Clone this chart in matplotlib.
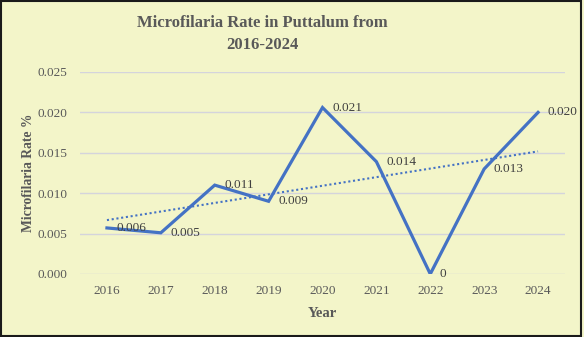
import numpy as np
import matplotlib
matplotlib.use("Agg")
import matplotlib.pyplot as plt
from matplotlib.patches import Rectangle

years = ["2016", "2017", "2018", "2019", "2020", "2021", "2022", "2023", "2024"]
mf_rate = [0.0057, 0.0051, 0.011, 0.009, 0.0206, 0.0139, 0.0, 0.013, 0.020]
y_ticks = [0.000, 0.005, 0.010, 0.015, 0.020, 0.025]

bg = "#F3F5C9"
blue = "#4472C4"
grey_text = "#595959"
serif = ["Liberation Serif", "DejaVu Serif"]

fig = plt.figure(figsize=(5.84, 3.37), dpi=100, facecolor=bg)
ax = fig.add_axes([80 / 584, 1 - 274 / 337, 485 / 584, 202 / 337])
ax.set_facecolor(bg)

x = np.arange(len(years))
ax.plot(x, mf_rate, color=blue, lw=2.3, solid_joinstyle="miter", zorder=3)

# linear trend line
slope, intercept = np.polyfit(x, mf_rate, 1)
ax.plot(x, slope * x + intercept, color=blue, lw=1.5, ls=(0, (1, 1.3)), zorder=2)

for xi, v in zip(x, mf_rate):
    txt = "0" if v == 0 else f"{v:.3f}"
    ax.annotate(txt, (xi, v), xytext=(7, 0), textcoords="offset points",
                ha="left", va="center", fontsize=9.5, family=serif,
                color="#404040", zorder=4)

ax.set_xlim(-0.5, len(years) - 0.5)
ax.set_ylim(0, 0.025)
ax.set_yticks(y_ticks)
ax.set_yticklabels([f"{t:.3f}" for t in y_ticks])
ax.set_xticks(x)
ax.set_xticklabels(years)
ax.grid(axis="y", color="#D4D4DC", lw=1)
ax.set_axisbelow(True)
for s in ax.spines.values():
    s.set_visible(False)
ax.tick_params(length=0, labelsize=9.5, labelcolor=grey_text)
ax.tick_params(axis="y", pad=9)
ax.tick_params(axis="x", pad=8)
for lbl in ax.get_xticklabels() + ax.get_yticklabels():
    lbl.set_family(serif)

ax.set_xlabel("Year", family=serif, fontsize=10.5, fontweight="bold",
              color=grey_text, labelpad=7)
ax.set_ylabel("Microfilaria Rate %", family=serif, fontsize=9.8,
              fontweight="bold", color=grey_text, va="center")
ax.yaxis.set_label_coords(-0.106, 0.5)

fig.text(262 / 584, 1 - 34 / 337, "Microfilaria Rate in Puttalum from\n2016-2024",
         ha="center", va="center", family=serif, fontsize=12,
         fontweight="bold", color=grey_text, linespacing=1.5)

fig.patches.append(Rectangle((0.0015, 0.0025), 0.994, 0.994, transform=fig.transFigure,
                             fill=False, edgecolor="#1a1a1a", lw=1.5))

fig.savefig("out.png", dpi=100, facecolor=bg)
